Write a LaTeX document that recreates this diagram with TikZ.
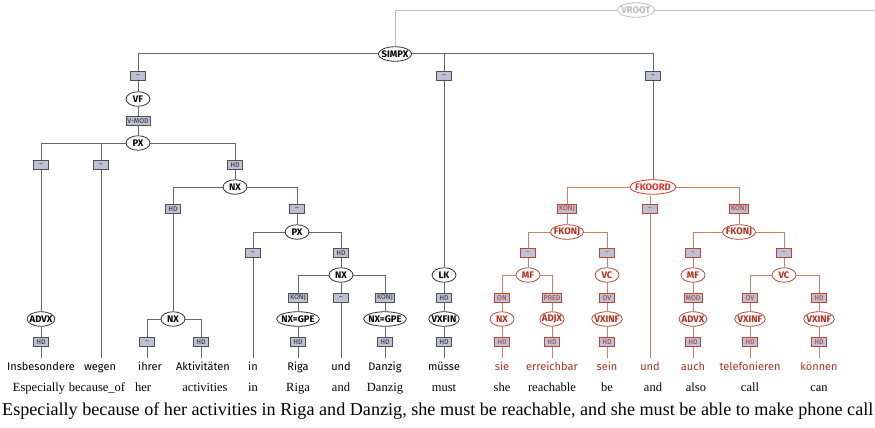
\documentclass[tikz,border=0pt]{standalone}
\usepackage{fontspec}
\usepackage{graphicx}
\usetikzlibrary{shapes.geometric}
\setmainfont{Liberation Serif}
\newfontfamily\treefont{Fira Sans}
\newfontfamily\treebold{Fira Sans Bold}

\definecolor{lineg}{HTML}{666666}
\definecolor{redln}{HTML}{C9806F}
\definecolor{redcat}{HTML}{B8473A}
\definecolor{redtxt}{HTML}{B0301E}
\definecolor{fkred}{HTML}{D8362A}
\definecolor{boxfill}{HTML}{BEC1D3}
\definecolor{boxg}{HTML}{505050}
\definecolor{rootg}{HTML}{BDBDBD}

\tikzset{
  ln/.style={draw=lineg, line width=1pt},
  rln/.style={draw=redln, line width=1pt},
  rootln/.style={draw=rootg, line width=0.9pt},
  cat/.style={ellipse, draw=black!80, fill=white, line width=0.8pt,
    font=\treebold\fontsize{9.5}{10}\selectfont, inner xsep=-1.5pt, inner ysep=0pt,
    minimum height=14.5pt, minimum width=24pt, text=black},
  rcat/.style={cat, draw=redcat, text=redtxt},
  rootcat/.style={cat, draw=rootg, text=rootg},
  fn/.style={rectangle, draw=boxg, fill=boxfill, line width=0.7pt,
    font=\treefont\fontsize{7}{7}\selectfont, inner xsep=1.5pt, inner ysep=0pt,
    minimum height=9.5pt, minimum width=15pt, text=black!85},
  rfn/.style={fn, draw=redcat, text=redtxt},
  wd/.style={font=\treefont\fontsize{11}{12}\selectfont, anchor=base,
    text height=8pt, text depth=2pt, inner xsep=0pt, inner ysep=4pt},
  rwd/.style={wd, text=redtxt},
  gl/.style={font=\fontsize{12.5}{15}\selectfont, anchor=base, inner sep=0pt}
}

\begin{document}
\begin{tikzpicture}[x=1pt,y=-1pt]
\useasboundingbox (0,0) rectangle (875,428);

% ---- root and top level ----
\node[rootcat] (vroot) at (636,10) {VROOT};
\coordinate (rootend) at (875,10);
\node[cat] (simpx) at (395,54) {SIMPX};
\draw[rootln] (vroot) -| (simpx);
\draw[rootln] (vroot) -- (rootend);

\node[fn] (b1) at (138,76) {–};
\node[fn] (b2) at (444,76) {–};
\node[fn] (b3) at (653,76) {–};
\draw[ln] (simpx) -| (b1);
\draw[ln] (simpx) -| (b2);
\draw[ln] (simpx) -| (b3);

% ---- Vorfeld ----
\node[cat] (vf) at (138,99) {VF};
\node[fn] (vmod) at (138,121) {V-MOD};
\node[cat] (px1) at (138,143) {PX};
\draw[ln] (b1) -- (vf);
\draw[ln] (vf) -- (vmod);
\draw[ln] (vmod) -- (px1);

\node[fn] (c1) at (41,165) {–};
\node[fn] (c2) at (101,165) {–};
\node[fn] (c3) at (235,165) {HD};
\draw[ln] (px1) -| (c1);
\draw[ln] (px1) -| (c2);
\draw[ln] (px1) -| (c3);

\node[cat] (advx1) at (41,319) {ADVX};
\node[fn] (hd1) at (41,342) {HD};
\node[wd] (w1) at (41,370) {Insbesondere};
\draw[ln] (c1) -- (advx1);
\draw[ln] (advx1) -- (hd1);
\draw[ln] (hd1) -- (w1);

\node[wd] (w2) at (100,370) {wegen};
\draw[ln] (c2) -- (w2.north -| c2);

\node[cat] (nx1) at (235,187) {NX};
\draw[ln] (c3) -- (nx1);
\node[fn] (d1) at (173,209) {HD};
\node[fn] (d2) at (297,209) {–};
\draw[ln] (nx1) -| (d1);
\draw[ln] (nx1) -| (d2);

\node[cat] (nx2) at (173,319) {NX};
\draw[ln] (d1) -- (nx2);
\node[fn] (e1) at (147,342) {–};
\node[fn] (e2) at (201,342) {HD};
\draw[ln] (nx2) -| (e1);
\draw[ln] (nx2) -| (e2);
\node[wd] (w3) at (150,370) {ihrer};
\node[wd] (w4) at (203,370) {Aktivitäten};
\draw[ln] (e1) -- (w3.north -| e1);
\draw[ln] (e2) -- (w4.north -| e2);

\node[cat] (px2) at (297,232) {PX};
\draw[ln] (d2) -- (px2);
\node[fn] (f1) at (253,253) {–};
\node[fn] (f2) at (341,253) {HD};
\draw[ln] (px2) -| (f1);
\draw[ln] (px2) -| (f2);
\node[wd] (w5) at (253,370) {in};
\draw[ln] (f1) -- (w5);

\node[cat] (nx3) at (341,275) {NX};
\draw[ln] (f2) -- (nx3);
\node[fn] (g1) at (298,298) {KONJ};
\node[fn] (g2) at (341,298) {–};
\node[fn] (g3) at (385,298) {KONJ};
\draw[ln] (nx3) -| (g1);
\draw[ln] (nx3) -- (g2);
\draw[ln] (nx3) -| (g3);

\node[cat] (gpe1) at (298,319) {NX=GPE};
\node[fn] (hd2) at (298,342) {HD};
\node[wd] (w6) at (298,370) {Riga};
\draw[ln] (g1) -- (gpe1);
\draw[ln] (gpe1) -- (hd2);
\draw[ln] (hd2) -- (w6);

\node[wd] (w7) at (341,370) {und};
\draw[ln] (g2) -- (w7);

\node[cat] (gpe2) at (385,319) {NX=GPE};
\node[fn] (hd3) at (385,342) {HD};
\node[wd] (w8) at (385,370) {Danzig};
\draw[ln] (g3) -- (gpe2);
\draw[ln] (gpe2) -- (hd3);
\draw[ln] (hd3) -- (w8);

% ---- linke Klammer ----
\node[cat] (lk) at (444,275) {LK};
\node[fn] (hd4) at (444,298) {HD};
\node[cat] (vxfin) at (444,319) {VXFIN};
\node[fn] (hd5) at (444,342) {HD};
\node[wd] (w9) at (444,370) {müsse};
\draw[ln] (b2) -- (lk);
\draw[ln] (lk) -- (hd4);
\draw[ln] (hd4) -- (vxfin);
\draw[ln] (vxfin) -- (hd5);
\draw[ln] (hd5) -- (w9);

% ---- coordination ----
\node[rcat, text=fkred, draw=fkred] (fkoord) at (653,187) {FKOORD};
\draw[ln] (b3) -- (fkoord);
\node[rfn] (h1) at (567,209) {KONJ};
\node[rfn] (h2) at (650,209) {–};
\node[rfn] (h3) at (739,209) {KONJ};
\draw[rln] (fkoord) -| (h1);
\draw[rln] (fkoord) -| (h3);
\coordinate (h2top) at (650,196);
\draw[rln] (h2top) -- (h2);
\node[rwd] (w13) at (650,370) {und};
\draw[rln] (h2) -- (w13);

% first conjunct
\node[rcat] (fkonj1) at (567,232) {FKONJ};
\draw[rln] (h1) -- (fkonj1);
\node[rfn] (i1) at (528,253) {–};
\node[rfn] (i2) at (607,253) {–};
\draw[rln] (fkonj1) -| (i1);
\draw[rln] (fkonj1) -| (i2);

\node[rcat] (mf1) at (528,275) {MF};
\draw[rln] (i1) -- (mf1);
\node[rfn] (j1) at (502,298) {ON};
\node[rfn] (j2) at (552,298) {PRED};
\draw[rln] (mf1) -| (j1);
\draw[rln] (mf1) -| (j2);

\node[rcat] (nx4) at (502,319) {NX};
\node[rfn] (hd6) at (502,342) {HD};
\node[rwd] (w10) at (502,370) {sie};
\draw[rln] (j1) -- (nx4);
\draw[rln] (nx4) -- (hd6);
\draw[rln] (hd6) -- (w10);

\node[rcat] (adjx) at (552,319) {ADJX};
\node[rfn] (hd7) at (552,342) {HD};
\node[rwd] (w11) at (552,370) {erreichbar};
\draw[rln] (j2) -- (adjx);
\draw[rln] (adjx) -- (hd7);
\draw[rln] (hd7) -- (w11);

\node[rcat] (vc1) at (607,275) {VC};
\node[rfn] (ov1) at (607,298) {OV};
\node[rcat] (vxinf1) at (607,319) {VXINF};
\node[rfn] (hd8) at (607,342) {HD};
\node[rwd] (w12) at (607,370) {sein};
\draw[rln] (i2) -- (vc1);
\draw[rln] (vc1) -- (ov1);
\draw[rln] (ov1) -- (vxinf1);
\draw[rln] (vxinf1) -- (hd8);
\draw[rln] (hd8) -- (w12);

% second conjunct
\node[rcat] (fkonj2) at (739,232) {FKONJ};
\draw[rln] (h3) -- (fkonj2);
\node[rfn] (k1) at (693,253) {–};
\node[rfn] (k2) at (784,253) {–};
\draw[rln] (fkonj2) -| (k1);
\draw[rln] (fkonj2) -| (k2);

\node[rcat] (mf2) at (693,275) {MF};
\node[rfn] (mod) at (693,298) {MOD};
\node[rcat] (advx2) at (693,319) {ADVX};
\node[rfn] (hd9) at (693,342) {HD};
\node[rwd] (w14) at (693,370) {auch};
\draw[rln] (k1) -- (mf2);
\draw[rln] (mf2) -- (mod);
\draw[rln] (mod) -- (advx2);
\draw[rln] (advx2) -- (hd9);
\draw[rln] (hd9) -- (w14);

\node[rcat] (vc2) at (784,275) {VC};
\draw[rln] (k2) -- (vc2);
\node[rfn] (l1) at (750,298) {OV};
\node[rfn] (l2) at (819,298) {HD};
\draw[rln] (vc2) -| (l1);
\draw[rln] (vc2) -| (l2);

\node[rcat] (vxinf2) at (750,319) {VXINF};
\node[rfn] (hd10) at (750,342) {HD};
\node[rwd] (w15) at (750,370) {telefonieren};
\draw[rln] (l1) -- (vxinf2);
\draw[rln] (vxinf2) -- (hd10);
\draw[rln] (hd10) -- (w15);

\node[rcat] (vxinf3) at (819,319) {VXINF};
\node[rfn] (hd11) at (819,342) {HD};
\node[rwd] (w16) at (819,370) {können};
\draw[rln] (l2) -- (vxinf3);
\draw[rln] (vxinf3) -- (hd11);
\draw[rln] (hd11) -- (w16);

% ---- glosses ----
\node[gl] (g01) at (39,391) {Especially};
\node[gl] (g02) at (97,391) {because\_of};
\node[gl] (g03) at (143,391) {her};
\node[gl] (g04) at (205,391) {activities};
\node[gl] (g05) at (253,391) {in};
\node[gl] (g06) at (298,391) {Riga};
\node[gl] (g07) at (341,391) {and};
\node[gl] (g08) at (385,391) {Danzig};
\node[gl] (g09) at (444,391) {must};
\node[gl] (g10) at (502,391) {she};
\node[gl] (g11) at (552,391) {reachable};
\node[gl] (g12) at (607,391) {be};
\node[gl] (g13) at (653,391) {and};
\node[gl] (g14) at (696,391) {also};
\node[gl] (g15) at (750,391) {call};
\node[gl] (g16) at (819,391) {can};

% ---- free translation ----
\node[anchor=base west, inner sep=0pt] (trans) at (2,415)
  {\resizebox{871pt}{!}{Especially because of her activities in Riga and Danzig, she must be reachable, and she must be able to make phone call}};
\end{tikzpicture}
\end{document}
